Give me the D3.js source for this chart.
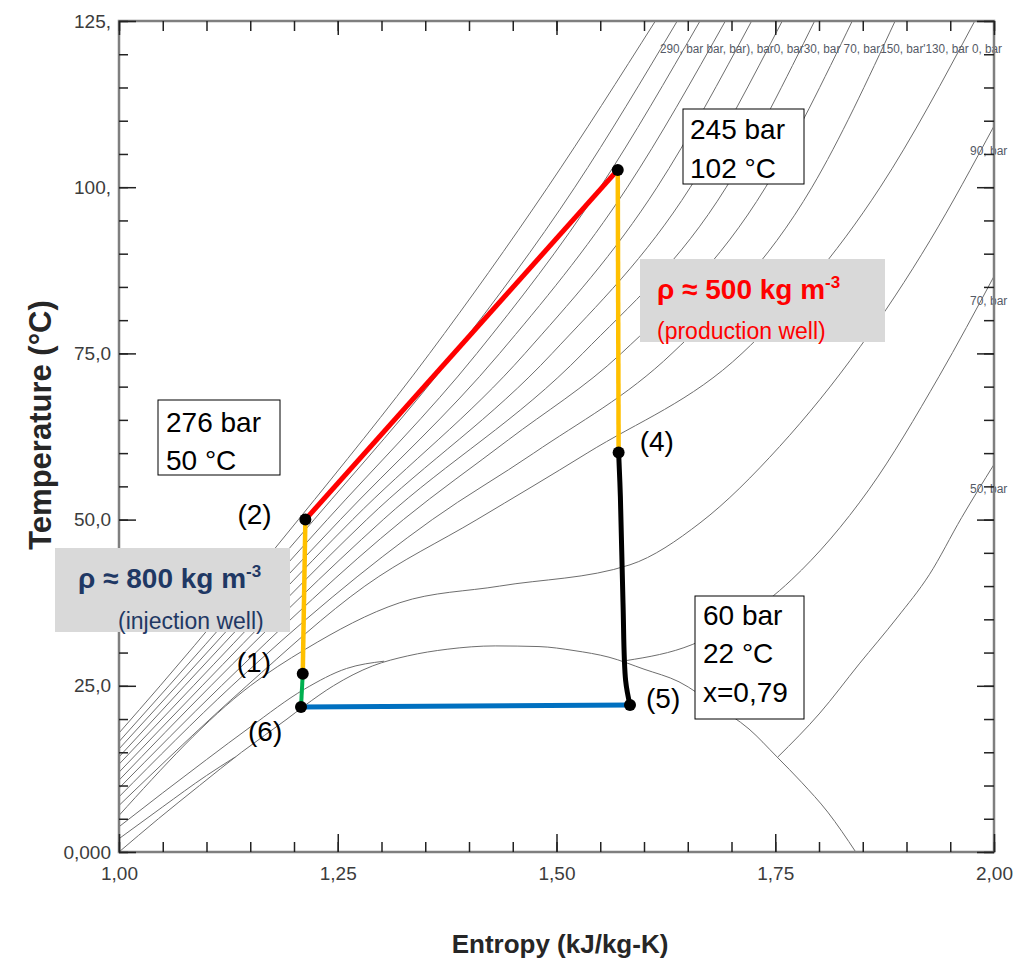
<!DOCTYPE html>
<html>
<head>
<meta charset="utf-8">
<script src="https://cdn.jsdelivr.net/npm/d3@7"></script>
<style>
body { margin: 0; background: #fff; }
text { font-family: "Liberation Sans", Arial, sans-serif; }
</style>
</head>
<body>
<div id="chart"></div>
<script>
// Chart size and margins (plot frame from s=1.00 to 2.00, T=0 to 125)
var svgWidth = 1035;
var svgHeight = 962;

var margin = { top: 21, right: 41, bottom: 110, left: 119 };
var width = svgWidth - margin.left - margin.right;
var height = svgHeight - margin.top - margin.bottom;

// Tick labels as printed on the chart
var xTickValues = [1.00, 1.25, 1.50, 1.75, 2.00];
var xTickLabels = ["1,00", "1,25", "1,50", "1,75", "2,00"];
var yTickValues = [0, 25, 50, 75, 100, 125];
var yTickLabels = ["0,000", "25,0", "50,0", "75,0", "100,", "125,"];

// Isobars, [entropy kJ/kg-K, temperature °C]
var iso290 = [[1.000, 17.9], [1.047, 25], [1.205, 50], [1.355, 75], [1.490, 100], [1.613, 125]];
var iso270 = [[1.000, 16.6], [1.057, 25], [1.223, 50], [1.383, 75], [1.521, 100], [1.638, 125]];
var iso250 = [[1.000, 15.5], [1.066, 25], [1.238, 50], [1.409, 75], [1.550, 100], [1.664, 125]];
var iso230 = [[1.000, 14.3], [1.075, 25], [1.253, 50], [1.435, 75], [1.581, 100], [1.693, 125]];
var iso210 = [[1.000, 13.2], [1.085, 25], [1.267, 50], [1.464, 75], [1.615, 100], [1.723, 125]];
var iso190 = [[1.000, 12.0], [1.095, 25], [1.283, 50], [1.495, 75], [1.653, 100], [1.758, 125]];
var iso170 = [[1.000, 10.8], [1.105, 25], [1.302, 50], [1.530, 75], [1.694, 100], [1.795, 125]];
var iso150 = [[1.000, 9.6], [1.117, 25], [1.325, 50], [1.445, 62], [1.574, 75], [1.739, 100], [1.838, 125]];
var iso130 = [[1.000, 8.3], [1.129, 25], [1.358, 50], [1.474, 60], [1.632, 75], [1.792, 100], [1.887, 125]];
var iso110 = [[1.000, 7.0], [1.146, 25], [1.281, 40], [1.409, 50], [1.535, 60], [1.712, 75], [1.870, 100], [1.978, 125]];
var iso90 = [[1.000, 5.5], [1.150, 25], [1.213, 30.5], [1.321, 37.5], [1.435, 40.0], [1.584, 43.2],
             [1.664, 49.5], [1.755, 61], [1.847, 76], [1.927, 92], [2.000, 109.2]];
var iso70Liquid = [[1.000, 3.8], [1.050, 8.9], [1.100, 13.9], [1.150, 18.8], [1.212, 24.5], [1.260, 27.6], [1.303, 28.7]];
var iso70Vapour = [[1.580, 28.8], [1.655, 31.2], [1.769, 41.0], [1.857, 54.5], [1.937, 71.5], [2.000, 86.6]];
var iso50Liquid = [[1.000, 2.0], [1.050, 6.8], [1.100, 11.5], [1.133, 14.3]];
var iso50Vapour = [[1.753, 14.3], [1.801, 20.9], [1.846, 28.3], [1.889, 35.2], [1.926, 41.7], [1.963, 50.3], [2.000, 58.3]];

// Saturation dome (liquid side, then vapour side)
var satDome = [[1.000, 0], [1.045, 5], [1.092, 10], [1.140, 15], [1.192, 20], [1.212, 22], [1.245, 25],
               [1.290, 28], [1.330, 29.5], [1.375, 30.5], [1.430, 31.0], [1.480, 30.9], [1.520, 30.3],
               [1.560, 29.3], [1.600, 27.5], [1.640, 25.6], [1.682, 22], [1.720, 18.5], [1.752, 14.3],
               [1.780, 10.5], [1.810, 6], [1.842, 0]];

var topIsobarText = "290, bar bar, bar), bar0, bar30, bar 70, bar150, bar'130, bar 0, bar";
var sideIsobarLabels = ["90, bar", "70, bar", "50, bar"];

// Cycle states (1)..(6)
var stateNames = ["(1)", "(2)", "(3)", "(4)", "(5)", "(6)"];
var stateS = [1.210, 1.213, 1.570, 1.571, 1.584, 1.208];
var stateT = [26.8, 50.0, 102.6, 60.1, 22.1, 21.8];

// Expansion path (4) -> (5)
var path45 = [[1.571, 60.1], [1.573, 53.5], [1.576, 37.5], [1.579, 25.8], [1.584, 22.1]];

// Create SVG wrapper
var svg = d3.select("#chart")
    .append("svg")
    .attr("width", svgWidth)
    .attr("height", svgHeight);

var chartGroup = svg.append("g")
    .attr("transform", `translate(${margin.left}, ${margin.top})`);

// Scales
var xScale = d3.scaleLinear().domain([1, 2]).range([0, width]);
var yScale = d3.scaleLinear().domain([0, 125]).range([height, 0]);

var line = d3.line()
    .x(d => xScale(d[0]))
    .y(d => yScale(d[1]))
    .curve(d3.curveMonotoneX);

// Clip for thin lines
chartGroup.append("clipPath").attr("id", "plotClip")
    .append("rect").attr("width", width).attr("height", height);

var isoGroup = chartGroup.append("g").attr("clip-path", "url(#plotClip)");

var isobars = [iso290, iso270, iso250, iso230, iso210, iso190, iso170, iso150, iso130, iso110,
               iso90, iso70Liquid, iso70Vapour, iso50Liquid, iso50Vapour, satDome];

isoGroup.selectAll("path.iso")
    .data(isobars)
    .enter()
    .append("path")
    .attr("class", "iso")
    .attr("d", line)
    .attr("fill", "none")
    .attr("stroke", "#6e6e6e")
    .attr("stroke-width", 1);

// Isobar labels
chartGroup.append("text")
    .attr("x", 541)
    .attr("y", 32)
    .attr("font-size", 12)
    .attr("fill", "#555a66")
    .attr("textLength", 342)
    .attr("lengthAdjust", "spacingAndGlyphs")
    .text(topIsobarText);

var sideEnds = [iso90, iso70Vapour, iso50Vapour].map(a => a[a.length - 1]);
chartGroup.selectAll("text.side")
    .data(sideIsobarLabels)
    .enter()
    .append("text")
    .attr("class", "side")
    .attr("x", width - 24)
    .attr("y", (d, i) => yScale(sideEnds[i][1]) + 29)
    .attr("font-size", 12)
    .attr("fill", "#555a66")
    .text(d => d);

// Frame
chartGroup.append("rect")
    .attr("width", width)
    .attr("height", height)
    .attr("fill", "none")
    .attr("stroke", "#7f7f7f")
    .attr("stroke-width", 2.5);

// Axes: ticks point inward on all four sides
var xMinor = d3.range(0, 21).map(i => 1 + i * 0.05);
var yMinor = d3.range(0, 26).map(i => i * 5);

function styleAxis(g) {
    g.select(".domain").remove();
    g.selectAll(".tick line").attr("stroke", "#222").attr("stroke-width", 1.5);
    g.attr("font-family", "Liberation Sans, Arial, sans-serif")
        .attr("font-size", 19);
    g.selectAll(".tick text").attr("fill", "#3c3c3c");
}

chartGroup.append("g")
    .attr("transform", `translate(0, ${height})`)
    .call(d3.axisBottom(xScale).tickValues(xMinor).tickSize(-10).tickFormat(""))
    .call(styleAxis);
chartGroup.append("g")
    .attr("transform", `translate(0, ${height})`)
    .call(d3.axisBottom(xScale).tickValues(xTickValues).tickSize(-18).tickPadding(15)
        .tickFormat((d, i) => xTickLabels[i]))
    .call(styleAxis);

chartGroup.append("g")
    .call(d3.axisTop(xScale).tickValues(xMinor).tickSize(-10).tickFormat(""))
    .call(styleAxis);
chartGroup.append("g")
    .call(d3.axisTop(xScale).tickValues(xTickValues).tickSize(-14).tickFormat(""))
    .call(styleAxis);

chartGroup.append("g")
    .call(d3.axisLeft(yScale).tickValues(yMinor).tickSize(-9).tickFormat(""))
    .call(styleAxis);
chartGroup.append("g")
    .call(d3.axisLeft(yScale).tickValues(yTickValues).tickSize(-17).tickPadding(8)
        .tickFormat((d, i) => yTickLabels[i]))
    .call(styleAxis);

chartGroup.append("g")
    .attr("transform", `translate(${width}, 0)`)
    .call(d3.axisRight(yScale).tickValues(yMinor).tickSize(-10).tickFormat(""))
    .call(styleAxis);
chartGroup.append("g")
    .attr("transform", `translate(${width}, 0)`)
    .call(d3.axisRight(yScale).tickValues(yTickValues).tickSize(-17).tickFormat(""))
    .call(styleAxis);

// Cycle segments
function pt(i) { return [stateS[i], stateT[i]]; }
var straight = d3.line().x(d => xScale(d[0])).y(d => yScale(d[1]));
var segments = [
    { pts: [pt(1), pt(2)], color: "#ff0000", w: 5 },
    { pts: [pt(0), pt(1)], color: "#ffc000", w: 4.5 },
    { pts: [pt(2), pt(3)], color: "#ffc000", w: 4.5 },
    { pts: [pt(5), pt(0)], color: "#00b050", w: 4 },
    { pts: [pt(5), pt(4)], color: "#0070c0", w: 5 }
];
chartGroup.selectAll("path.seg")
    .data(segments)
    .enter()
    .append("path")
    .attr("class", "seg")
    .attr("d", d => straight(d.pts))
    .attr("fill", "none")
    .attr("stroke", d => d.color)
    .attr("stroke-width", d => d.w);

chartGroup.append("path")
    .attr("d", d3.line().x(d => xScale(d[0])).y(d => yScale(d[1])).curve(d3.curveCatmullRom)(path45))
    .attr("fill", "none")
    .attr("stroke", "#000")
    .attr("stroke-width", 5);

chartGroup.selectAll("circle.state")
    .data(stateS)
    .enter()
    .append("circle")
    .attr("class", "state")
    .attr("cx", d => xScale(d))
    .attr("cy", (d, i) => yScale(stateT[i]))
    .attr("r", 6)
    .attr("fill", "#000");

// State labels (offsets from each point)
var labelOffsets = [[-66, -2], [-68, 4], null, [21, -1], [16, 3], [-53, 34]];
stateNames.forEach(function(name, i) {
    if (!labelOffsets[i]) return;
    chartGroup.append("text")
        .attr("x", xScale(stateS[i]) + labelOffsets[i][0])
        .attr("y", yScale(stateT[i]) + labelOffsets[i][1])
        .attr("font-size", 28)
        .attr("fill", "#000")
        .text(name);
});

// Annotation boxes
function textBox(x, y, w, h, lines, tx, baselines) {
    svg.append("rect")
        .attr("x", x).attr("y", y).attr("width", w).attr("height", h)
        .attr("fill", "#fff").attr("stroke", "#000").attr("stroke-width", 1);
    lines.forEach(function(l, i) {
        svg.append("text")
            .attr("x", tx).attr("y", baselines[i])
            .attr("font-size", 28).attr("fill", "#000")
            .text(l);
    });
}
textBox(683, 109, 121, 75, ["245 bar", "102 °C"], 690, [139, 178]);
textBox(158, 400, 122, 75, ["276 bar", "50 °C"], 166, [432, 470]);
textBox(695, 596, 109, 123, ["60 bar", "22 °C", "x=0,79"], 703, [625, 663, 702]);

function densityBox(x, y, w, h, value, note, color, tx, ty, nx, ny) {
    svg.append("rect")
        .attr("x", x).attr("y", y).attr("width", w).attr("height", h)
        .attr("fill", "#d9d9d9");
    var t = svg.append("text")
        .attr("x", tx).attr("y", ty)
        .attr("font-size", 28).attr("font-weight", "bold").attr("fill", color)
        .text(value);
    t.append("tspan").attr("dy", -11).attr("font-size", 17).text("-3");
    svg.append("text")
        .attr("x", nx).attr("y", ny)
        .attr("font-size", 23).attr("fill", color)
        .text(note);
}
densityBox(640, 259, 245, 83, "ρ ≈ 500 kg m", "(production well)", "#ff0000", 657, 299, 657, 339);
densityBox(55, 548, 235, 84, "ρ ≈ 800 kg m", "(injection well)", "#1f3864", 78, 588, 118, 629);

// Axis titles
svg.append("text")
    .attr("transform", "translate(40, 425) rotate(-90)")
    .attr("text-anchor", "middle")
    .attr("dy", "0.35em")
    .attr("font-size", 31)
    .attr("font-weight", "bold")
    .attr("fill", "#262626")
    .text("Temperature (°C)");

svg.append("text")
    .attr("x", 560)
    .attr("y", 953)
    .attr("text-anchor", "middle")
    .attr("font-size", 26)
    .attr("font-weight", "bold")
    .attr("fill", "#262626")
    .text("Entropy (kJ/kg-K)");
</script>
</body>
</html>
